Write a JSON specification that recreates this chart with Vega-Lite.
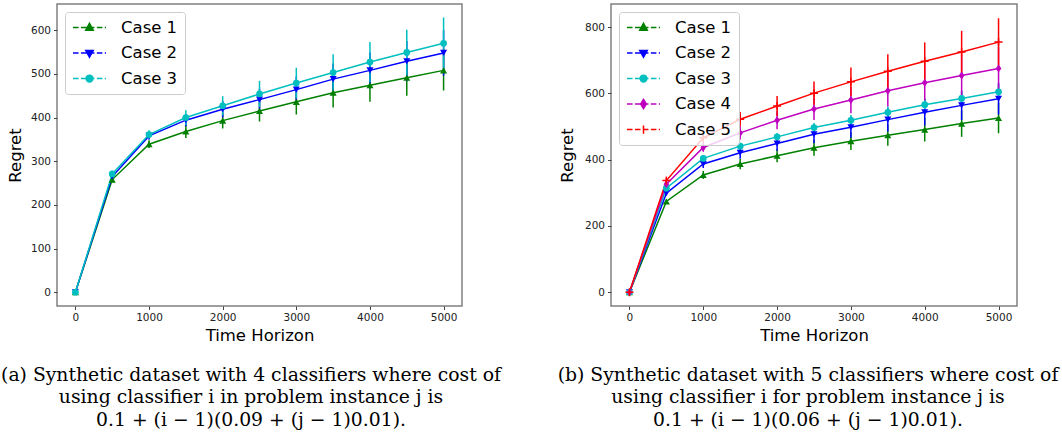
{
  "$schema": "https://vega.github.io/schema/vega-lite/v6.json",
  "padding": {"left": 0, "top": 3, "right": 0, "bottom": 0},
  "bounds": "flush",
  "spacing": 149,
  "config": {
    "view": {"stroke": "#808080", "strokeWidth": 1.5},
    "axis": {"domain": false, "grid": false, "tickSize": 3.5, "tickColor": "#444444", "tickWidth": 1, "labelFont": "DejaVu Sans", "labelFontSize": 10.5, "labelColor": "#222222", "labelPadding": 3, "titleFont": "DejaVu Sans", "titleFontSize": 16.5, "titleFontWeight": "normal", "titleColor": "#000000"},
    "axisX": {"titlePadding": 4},
    "axisY": {"titlePadding": 7},
    "title": {"font": "DejaVu Serif", "fontSize": 18.8, "fontWeight": "normal", "color": "#000000", "orient": "bottom", "anchor": "middle", "lineHeight": 22.5, "offset": 22, "frame": "group"},
    "legend": {"orient": "top-left", "offset": 8, "padding": 7, "fillColor": "rgba(255,255,255,0.8)", "strokeColor": "#cccccc", "cornerRadius": 3, "labelFont": "DejaVu Sans", "labelFontSize": 16.5, "labelColor": "#000000", "symbolSize": 225, "symbolStrokeWidth": 1.5, "symbolOpacity": 1, "symbolOffset": 9, "labelOffset": 23, "rowPadding": 8.5}
  },
  "resolve": {
    "scale": {"color": "independent", "stroke": "independent", "shape": "independent"},
    "legend": {"color": "independent", "stroke": "independent", "shape": "independent"}
  },
  "datasets": {
    "a": [
      {"t": 0, "case": "Case 1", "regret": 0, "err": 0},
      {"t": 500, "case": "Case 1", "regret": 258, "err": 6},
      {"t": 1000, "case": "Case 1", "regret": 339, "err": 9},
      {"t": 1500, "case": "Case 1", "regret": 368, "err": 15},
      {"t": 2000, "case": "Case 1", "regret": 393, "err": 18},
      {"t": 2500, "case": "Case 1", "regret": 415, "err": 24},
      {"t": 3000, "case": "Case 1", "regret": 436, "err": 29},
      {"t": 3500, "case": "Case 1", "regret": 457, "err": 34},
      {"t": 4000, "case": "Case 1", "regret": 474, "err": 38},
      {"t": 4500, "case": "Case 1", "regret": 491, "err": 41},
      {"t": 5000, "case": "Case 1", "regret": 508, "err": 46},
      {"t": 0, "case": "Case 2", "regret": 0, "err": 0},
      {"t": 500, "case": "Case 2", "regret": 265, "err": 6},
      {"t": 1000, "case": "Case 2", "regret": 358, "err": 9},
      {"t": 1500, "case": "Case 2", "regret": 394, "err": 14},
      {"t": 2000, "case": "Case 2", "regret": 419, "err": 19},
      {"t": 2500, "case": "Case 2", "regret": 441, "err": 25},
      {"t": 3000, "case": "Case 2", "regret": 464, "err": 30},
      {"t": 3500, "case": "Case 2", "regret": 488, "err": 36},
      {"t": 4000, "case": "Case 2", "regret": 508, "err": 41},
      {"t": 4500, "case": "Case 2", "regret": 529, "err": 46},
      {"t": 5000, "case": "Case 2", "regret": 548, "err": 52},
      {"t": 0, "case": "Case 3", "regret": 0, "err": 0},
      {"t": 500, "case": "Case 3", "regret": 271, "err": 7},
      {"t": 1000, "case": "Case 3", "regret": 361, "err": 10},
      {"t": 1500, "case": "Case 3", "regret": 400, "err": 17},
      {"t": 2000, "case": "Case 3", "regret": 427, "err": 22},
      {"t": 2500, "case": "Case 3", "regret": 454, "err": 30},
      {"t": 3000, "case": "Case 3", "regret": 479, "err": 35},
      {"t": 3500, "case": "Case 3", "regret": 503, "err": 42},
      {"t": 4000, "case": "Case 3", "regret": 527, "err": 46},
      {"t": 4500, "case": "Case 3", "regret": 549, "err": 52},
      {"t": 5000, "case": "Case 3", "regret": 570, "err": 59}
    ],
    "b": [
      {"t": 0, "case": "Case 1", "regret": 0, "err": 0},
      {"t": 500, "case": "Case 1", "regret": 274, "err": 6},
      {"t": 1000, "case": "Case 1", "regret": 354, "err": 12},
      {"t": 1500, "case": "Case 1", "regret": 387, "err": 16},
      {"t": 2000, "case": "Case 1", "regret": 412, "err": 20},
      {"t": 2500, "case": "Case 1", "regret": 436, "err": 24},
      {"t": 3000, "case": "Case 1", "regret": 456, "err": 27},
      {"t": 3500, "case": "Case 1", "regret": 474, "err": 32},
      {"t": 4000, "case": "Case 1", "regret": 491, "err": 36},
      {"t": 4500, "case": "Case 1", "regret": 509, "err": 40},
      {"t": 5000, "case": "Case 1", "regret": 526, "err": 46},
      {"t": 0, "case": "Case 2", "regret": 0, "err": 0},
      {"t": 500, "case": "Case 2", "regret": 299, "err": 6},
      {"t": 1000, "case": "Case 2", "regret": 387, "err": 12},
      {"t": 1500, "case": "Case 2", "regret": 421, "err": 18},
      {"t": 2000, "case": "Case 2", "regret": 449, "err": 22},
      {"t": 2500, "case": "Case 2", "regret": 477, "err": 27},
      {"t": 3000, "case": "Case 2", "regret": 498, "err": 32},
      {"t": 3500, "case": "Case 2", "regret": 521, "err": 36},
      {"t": 4000, "case": "Case 2", "regret": 543, "err": 40},
      {"t": 4500, "case": "Case 2", "regret": 564, "err": 44},
      {"t": 5000, "case": "Case 2", "regret": 584, "err": 48},
      {"t": 0, "case": "Case 3", "regret": 0, "err": 0},
      {"t": 500, "case": "Case 3", "regret": 314, "err": 5},
      {"t": 1000, "case": "Case 3", "regret": 404, "err": 8},
      {"t": 1500, "case": "Case 3", "regret": 441, "err": 10},
      {"t": 2000, "case": "Case 3", "regret": 469, "err": 12},
      {"t": 2500, "case": "Case 3", "regret": 497, "err": 14},
      {"t": 3000, "case": "Case 3", "regret": 519, "err": 16},
      {"t": 3500, "case": "Case 3", "regret": 543, "err": 18},
      {"t": 4000, "case": "Case 3", "regret": 566, "err": 20},
      {"t": 4500, "case": "Case 3", "regret": 585, "err": 22},
      {"t": 5000, "case": "Case 3", "regret": 605, "err": 24},
      {"t": 0, "case": "Case 4", "regret": 0, "err": 0},
      {"t": 500, "case": "Case 4", "regret": 326, "err": 7},
      {"t": 1000, "case": "Case 4", "regret": 437, "err": 13},
      {"t": 1500, "case": "Case 4", "regret": 481, "err": 20},
      {"t": 2000, "case": "Case 4", "regret": 519, "err": 27},
      {"t": 2500, "case": "Case 4", "regret": 553, "err": 33},
      {"t": 3000, "case": "Case 4", "regret": 580, "err": 40},
      {"t": 3500, "case": "Case 4", "regret": 608, "err": 47},
      {"t": 4000, "case": "Case 4", "regret": 632, "err": 53},
      {"t": 4500, "case": "Case 4", "regret": 654, "err": 60},
      {"t": 5000, "case": "Case 4", "regret": 675, "err": 65},
      {"t": 0, "case": "Case 5", "regret": 0, "err": 0},
      {"t": 500, "case": "Case 5", "regret": 337, "err": 8},
      {"t": 1000, "case": "Case 5", "regret": 466, "err": 15},
      {"t": 1500, "case": "Case 5", "regret": 522, "err": 22},
      {"t": 2000, "case": "Case 5", "regret": 562, "err": 30},
      {"t": 2500, "case": "Case 5", "regret": 601, "err": 35},
      {"t": 3000, "case": "Case 5", "regret": 635, "err": 43},
      {"t": 3500, "case": "Case 5", "regret": 667, "err": 51},
      {"t": 4000, "case": "Case 5", "regret": 697, "err": 57},
      {"t": 4500, "case": "Case 5", "regret": 725, "err": 64},
      {"t": 5000, "case": "Case 5", "regret": 755, "err": 72}
    ]
  },
  "hconcat": [
    {
      "width": 405,
      "height": 302,
      "data": {"name": "a"},
      "title": {"text": ["(a) Synthetic dataset with 4 classifiers where cost of", "using classifier i in problem instance j is", "0.1 + (i − 1)(0.09 + (j − 1)0.01)."], "dx": -8.5},
      "encoding": {
        "x": {"field": "t", "type": "quantitative", "scale": {"domain": [-250, 5250], "nice": false, "zero": false}, "axis": {"values": [0, 1000, 2000, 3000, 4000, 5000], "format": "d", "title": "Time Horizon"}},
        "y": {"field": "regret", "type": "quantitative", "scale": {"domain": [-31.5, 660], "nice": false, "zero": false}, "axis": {"values": [0, 100, 200, 300, 400, 500, 600], "format": "d", "title": "Regret"}}
      },
      "layer": [
        {
          "mark": {"type": "point", "filled": true, "opacity": 0},
          "encoding": {
            "color": {"field": "case", "type": "nominal", "scale": {"domain": ["Case 1", "Case 2", "Case 3"], "range": ["#008000", "#0000ff", "#00bfbf"]}, "legend": {"title": null}},
            "stroke": {"field": "case", "type": "nominal", "scale": {"domain": ["Case 1", "Case 2", "Case 3"], "range": ["#008000", "#0000ff", "#00bfbf"]}, "legend": {"title": null}},
            "shape": {"field": "case", "type": "nominal", "scale": {"domain": ["Case 1", "Case 2", "Case 3"], "range": [
              "M-2.2,0H-1.46M-1.14,0H-0.4M-0.08,0H0.66M0.98,0H1.72M2.04,0H2.2M0,-0.55L0.5,0.35L-0.5,0.35Z",
              "M-2.2,0H-1.46M-1.14,0H-0.4M-0.08,0H0.66M0.98,0H1.72M2.04,0H2.2M0,0.55L0.5,-0.35L-0.5,-0.35Z",
              "M-2.2,0H-1.46M-1.14,0H-0.4M-0.08,0H0.66M0.98,0H1.72M2.04,0H2.2M0.45,0A0.45,0.45,0,1,1,-0.45,0A0.45,0.45,0,1,1,0.45,0Z"
            ]}, "legend": {"title": null}}
          }
        },
        {"mark": {"type": "errorbar", "thickness": 1.5}, "encoding": {"yError": {"field": "err"}, "color": {"field": "case", "type": "nominal", "legend": {"title": null}}}},
        {"mark": {"type": "line", "strokeWidth": 1.5}, "encoding": {"color": {"field": "case", "type": "nominal", "legend": {"title": null}}}},
        {"transform": [{"filter": "datum.case == 'Case 1'"}], "mark": {"type": "point", "shape": "triangle-up", "filled": true, "color": "#008000", "size": 50, "opacity": 1}},
        {"transform": [{"filter": "datum.case == 'Case 2'"}], "mark": {"type": "point", "shape": "triangle-down", "filled": true, "color": "#0000ff", "size": 50, "opacity": 1}},
        {"transform": [{"filter": "datum.case == 'Case 3'"}], "mark": {"type": "point", "shape": "circle", "filled": true, "color": "#00bfbf", "size": 45, "opacity": 1}}
      ]
    },
    {
      "width": 406,
      "height": 302,
      "data": {"name": "b"},
      "title": {"text": ["(b) Synthetic dataset with 5 classifiers where cost of", "using classifier i for problem instance j is", "0.1 + (i − 1)(0.06 + (j − 1)0.01)."], "dx": -6},
      "encoding": {
        "x": {"field": "t", "type": "quantitative", "scale": {"domain": [-250, 5250], "nice": false, "zero": false}, "axis": {"values": [0, 1000, 2000, 3000, 4000, 5000], "format": "d", "title": "Time Horizon"}},
        "y": {"field": "regret", "type": "quantitative", "scale": {"domain": [-41.5, 870], "nice": false, "zero": false}, "axis": {"values": [0, 200, 400, 600, 800], "format": "d", "title": "Regret", "titlePadding": 9}}
      },
      "layer": [
        {
          "mark": {"type": "point", "filled": true, "opacity": 0},
          "encoding": {
            "color": {"field": "case", "type": "nominal", "scale": {"domain": ["Case 1", "Case 2", "Case 3", "Case 4", "Case 5"], "range": ["#008000", "#0000ff", "#00bfbf", "#bf00bf", "#ff0000"]}, "legend": {"title": null}},
            "stroke": {"field": "case", "type": "nominal", "scale": {"domain": ["Case 1", "Case 2", "Case 3", "Case 4", "Case 5"], "range": ["#008000", "#0000ff", "#00bfbf", "#bf00bf", "#ff0000"]}, "legend": {"title": null}},
            "shape": {"field": "case", "type": "nominal", "scale": {"domain": ["Case 1", "Case 2", "Case 3", "Case 4", "Case 5"], "range": [
              "M-2.2,0H-1.46M-1.14,0H-0.4M-0.08,0H0.66M0.98,0H1.72M2.04,0H2.2M0,-0.55L0.5,0.35L-0.5,0.35Z",
              "M-2.2,0H-1.46M-1.14,0H-0.4M-0.08,0H0.66M0.98,0H1.72M2.04,0H2.2M0,0.55L0.5,-0.35L-0.5,-0.35Z",
              "M-2.2,0H-1.46M-1.14,0H-0.4M-0.08,0H0.66M0.98,0H1.72M2.04,0H2.2M0.45,0A0.45,0.45,0,1,1,-0.45,0A0.45,0.45,0,1,1,0.45,0Z",
              "M-2.2,0H-1.46M-1.14,0H-0.4M-0.08,0H0.66M0.98,0H1.72M2.04,0H2.2M0,-0.6L0.38,0L0,0.6L-0.38,0Z",
              "M-2.2,0H-1.46M-1.14,0H-0.4M-0.08,0H0.66M0.98,0H1.72M2.04,0H2.2M0,-0.55V0.55"
            ]}, "legend": {"title": null}}
          }
        },
        {"mark": {"type": "errorbar", "thickness": 1.5}, "encoding": {"yError": {"field": "err"}, "color": {"field": "case", "type": "nominal", "legend": {"title": null}}}},
        {"mark": {"type": "line", "strokeWidth": 1.5}, "encoding": {"color": {"field": "case", "type": "nominal", "legend": {"title": null}}}},
        {"transform": [{"filter": "datum.case == 'Case 1'"}], "mark": {"type": "point", "shape": "triangle-up", "filled": true, "color": "#008000", "size": 50, "opacity": 1}},
        {"transform": [{"filter": "datum.case == 'Case 2'"}], "mark": {"type": "point", "shape": "triangle-down", "filled": true, "color": "#0000ff", "size": 50, "opacity": 1}},
        {"transform": [{"filter": "datum.case == 'Case 3'"}], "mark": {"type": "point", "shape": "circle", "filled": true, "color": "#00bfbf", "size": 45, "opacity": 1}},
        {"transform": [{"filter": "datum.case == 'Case 4'"}], "mark": {"type": "point", "shape": "M0,-1L0.7,0L0,1L-0.7,0Z", "filled": true, "color": "#bf00bf", "size": 64, "opacity": 1}},
        {"transform": [{"filter": "datum.case == 'Case 5'"}], "mark": {"type": "point", "shape": "M-1,0H1M0,-1V1", "filled": false, "color": "#ff0000", "strokeWidth": 1.5, "size": 64, "opacity": 1}}
      ]
    }
  ]
}
